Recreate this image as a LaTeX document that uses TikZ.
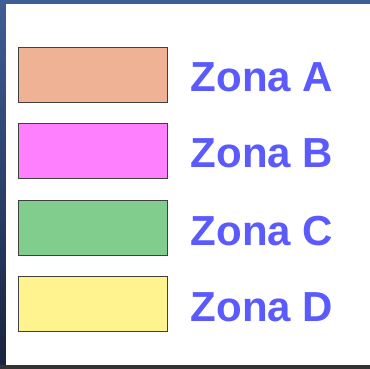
\documentclass[tikz,border=0pt]{standalone}
\usepackage{fontspec}
\setmainfont{Liberation Sans}
\usetikzlibrary{positioning}
\definecolor{ZoneA}{HTML}{EFB294}
\definecolor{ZoneB}{HTML}{FF80FF}
\definecolor{ZoneC}{HTML}{80CD8E}
\definecolor{ZoneD}{HTML}{FFF38F}
\definecolor{LabelBlue}{HTML}{5A5AFF}
\definecolor{FrameTop}{HTML}{3E5E96}
\definecolor{FrameBot}{HTML}{18223E}

\begin{document}
\begin{tikzpicture}[x=1pt, y=1pt,
  zbox/.style={draw=black!75, line width=0.9pt, minimum width=149pt, minimum height=55pt,
               inner sep=0pt, outer sep=0pt},
  zlabel/.style={font=\fontsize{42}{42}\selectfont\bfseries, text=LabelBlue, inner sep=0pt},
  node distance=21.5pt
]
  % frame and panel
  \useasboundingbox (0,0) rectangle (370,369);
  \shade[top color=FrameTop, bottom color=FrameBot] (0,0) rectangle (370,369);
  \fill[black!80] (0,0) rectangle (370,4);
  \fill[white] (6,4) rectangle (370,365);

  \node[zbox, fill=ZoneA, anchor=north west] (zA) at (18,321.7) {};
  \node[zbox, fill=ZoneB, below=of zA] (zB) {};
  \node[zbox, fill=ZoneC, below=of zB] (zC) {};
  \node[zbox, fill=ZoneD, below=of zC] (zD) {};

  \node[zlabel, right=23.5pt of zA, yshift=-2.5pt] (lA) {Zona A};
  \node[zlabel, right=23.5pt of zB, yshift=-1.5pt] (lB) {Zona B};
  \node[zlabel, right=23.5pt of zC, yshift=-3pt] (lC) {Zona C};
  \node[zlabel, right=23.5pt of zD, yshift=-3pt] (lD) {Zona D};
\end{tikzpicture}
\end{document}
